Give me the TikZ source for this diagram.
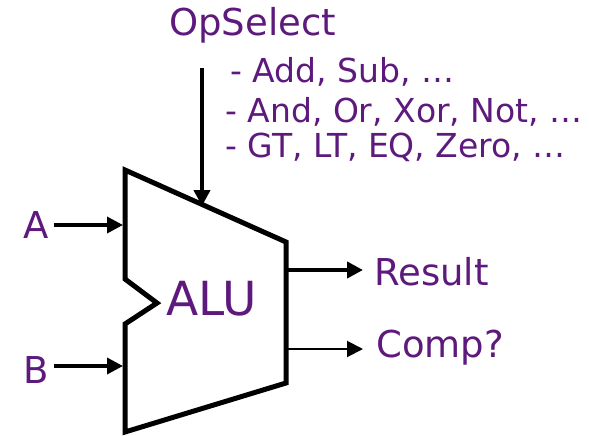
\documentclass[tikz,border=0pt]{standalone}
\usepackage{fontspec}
\setmainfont{DejaVu Sans}
\usetikzlibrary{arrows.meta}
\definecolor{alupurple}{RGB}{94,25,125}
\begin{document}
\begin{tikzpicture}[x=1pt,y=-1pt,
  lbl/.style={text=alupurple,inner sep=0pt,anchor=base west,font=\fontsize{37}{40}\selectfont},
  lst/.style={text=alupurple,inner sep=0pt,anchor=base west,font=\fontsize{33}{36}\selectfont},
  arr/.style={-{Triangle[length=16pt,width=16pt]}},
  body/.style={line width=5pt,line join=miter}]
\useasboundingbox (0,0) rectangle (589,436);
% ALU body
\coordinate (tl) at (125,170);
\coordinate (tr) at (286,242);
\coordinate (br) at (286,383);
\coordinate (bl) at (125,432);
\coordinate (n1) at (125,279);
\coordinate (nt) at (157,303);
\coordinate (n2) at (125,324);
\draw[body] (tl) -- (tr) -- (br) -- (bl) -- (n2) -- (nt) -- (n1) -- cycle;
\node[text=alupurple,inner sep=0pt,anchor=base west,font=\fontsize{47}{50}\selectfont] (alu) at (166,315) {ALU};
% texts
\node[lbl] (opsel) at (169,36) {OpSelect};
\node[lst] (l1) at (230,82) {- Add, Sub, …};
\node[lst] (l2) at (225,122) {- And, Or, Xor, Not, …};
\node[lst] (l3) at (225,157) {- GT, LT, EQ, Zero, …};
\node[lbl] (a) at (23,238) {A};
\node[lbl] (b) at (23,383) {B};
\node[lbl] (res) at (374,285) {Result};
\node[lbl] (comp) at (376,357) {Comp?};
% ports
\coordinate (ina) at (123,225);
\coordinate (inb) at (123,366);
\coordinate (opstart) at (202,68);
\coordinate (opend) at (202,206);
\coordinate (outr) at (288,270);
\coordinate (outc) at (288,349);
\coordinate (resin) at (363,270);
\coordinate (compin) at (363,349);
\draw[arr,line width=3.5pt] (a.east |- ina) ++(5,0) -- (ina);
\draw[arr,line width=3.5pt] (b.east |- inb) ++(5,0) -- (inb);
\draw[arr,line width=4.5pt] (opstart) -- (opend);
\draw[arr,line width=4.5pt] (outr) -- (resin);
\draw[arr,line width=2pt] (outc) -- (compin);
\end{tikzpicture}
\end{document}
